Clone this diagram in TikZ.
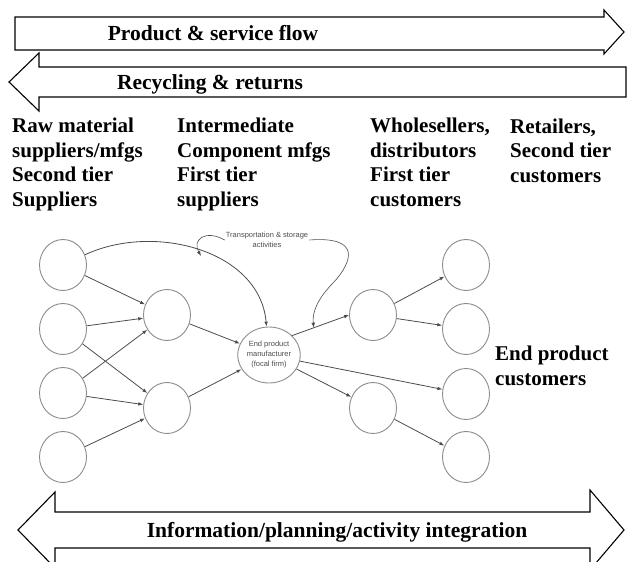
\documentclass[tikz,border=0pt]{standalone}
\usepackage{fontspec}
\setmainfont{Liberation Serif}
\setsansfont{Liberation Sans}
\usetikzlibrary{arrows.meta,shapes.geometric,calc}

\begin{document}
\begin{tikzpicture}[x=1pt,y=1pt,
        firm/.style={draw=black!45,ellipse,minimum width=47pt,minimum height=51pt,inner sep=0pt,line width=0.9pt},
        flow/.style={draw=black!70,line width=0.8pt,-{Latex[length=5pt,width=3.6pt]}},
        heading/.style={font=\bfseries\fontsize{21}{24.5}\selectfont,align=left,inner sep=0pt,anchor=base west},
        banner/.style={font=\bfseries\fontsize{21.5}{24.5}\selectfont,inner sep=0pt,anchor=base},
        tiny/.style={font=\sffamily\fontsize{7.5}{10}\selectfont,text=black!70,align=center,inner sep=1pt},
        band/.style={draw=black,line width=1.1pt}]

        \useasboundingbox (0,0) rectangle (627,-562);

        \draw[band] (15,-17) -- (604,-17) -- (604,-10) -- (624,-32) -- (604,-54) -- (604,-50) -- (15,-50) -- cycle;
        \draw[band] (626,-67) -- (39,-67) -- (39,-53) -- (9,-82) -- (39,-111) -- (39,-97) -- (626,-97) -- cycle;
        \draw[band] (55,-512) -- (590,-512) -- (590,-490) -- (624,-530) -- (590,-570) -- (590,-548) -- (55,-548) -- (55,-568) -- (18,-530) -- (55,-492) -- cycle;

        \node[banner] (product) at (213,-40) {Product \& service flow};

        \node[banner] (recycle) at (210,-89) {Recycling \& returns};

        \node[banner] (info) at (337,-537) {Information/planning/activity integration};

        \node[heading] (raw) at (12,-206) {Raw material\\suppliers/mfgs\\Second tier\\Suppliers};

        \node[heading] (inter) at (177,-206) {Intermediate\\Component mfgs\\First tier\\suppliers};

        \node[heading] (whole) at (370,-206) {Wholesellers,\\distributors\\First tier\\customers};

        \node[heading] (retail) at (510,-182) {Retailers,\\Second tier\\customers};

        \node[heading] (endcust) at (495,-385) {End product\\customers};

        \node[firm] (s1) at (63,-265) {};

        \node[firm] (s2) at (63,-329) {};

        \node[firm] (s3) at (63,-393) {};

        \node[firm] (s4) at (63,-457) {};

        \node[firm] (m1) at (167,-315) {};

        \node[firm] (m2) at (167,-408) {};

        \node[firm,minimum width=52pt,minimum height=56pt,font=\sffamily\fontsize{7.5}{10}\selectfont,text=black!70,align=center] (focal) at (269,-355) {End product\\manufacturer\\(focal firm)};

        \node[firm] (d1) at (373,-315) {};

        \node[firm] (d2) at (373,-408) {};

        \node[firm] (c1) at (466,-265) {};

        \node[firm] (c2) at (466,-329) {};

        \node[firm] (c3) at (466,-394) {};

        \node[firm] (c4) at (466,-457) {};

        \node[tiny] (transport) at (267,-240) {Transportation \& storage\\activities};

        \coordinate (hookA) at (201,-256);
        \coordinate (hookB) at ($(focal.40)!0.38!(d1.west)$);

        \draw[flow] (s1) to[out=25,in=95] (focal);
        \draw[flow] (s1) -- (m1);
        \draw[flow] (s2) -- (m1);
        \draw[flow] (s2) -- (m2);
        \draw[flow] (s3) -- (m1);
        \draw[flow] (s3) -- (m2);
        \draw[flow] (s4) -- (m2);
        \draw[flow] (m1) -- (focal);
        \draw[flow] (m2) -- (focal);
        \draw[flow] (focal.40) -- (d1.west);
        \draw[flow] (focal) -- (c3);
        \draw[flow] (focal) -- (d2);
        \draw[flow] (d1) -- (c1);
        \draw[flow] (d1) -- (c2);
        \draw[flow] (d2) -- (c4);
        \draw[flow,line width=0.6pt] (transport.west) .. controls (205,-229) and (192,-240) .. (hookA);
        \draw[flow,line width=0.6pt] (transport.east) .. controls (362,-236) and (352,-262) .. (334,-282) .. controls (318,-298) and (312,-312) .. (hookB);
\end{tikzpicture}
\end{document}
